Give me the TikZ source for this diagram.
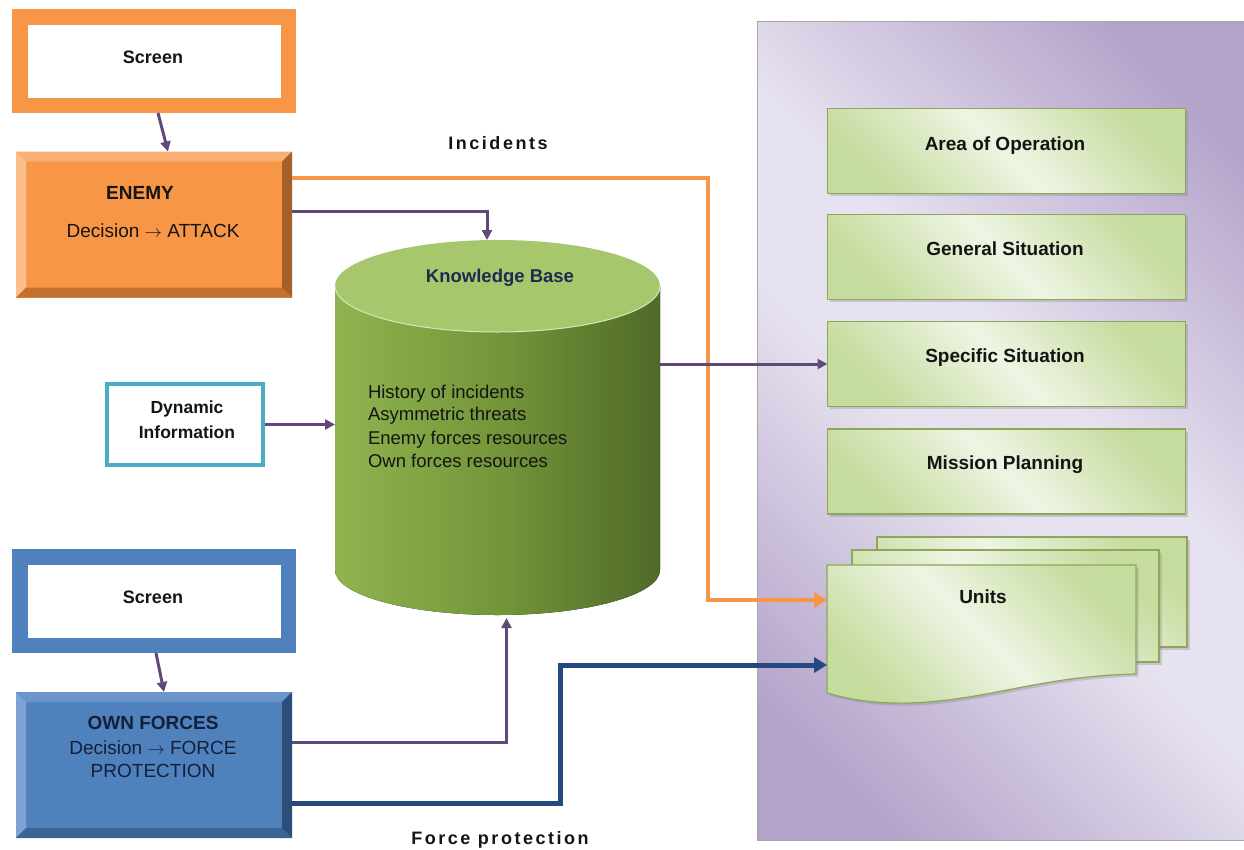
\documentclass[tikz,border=0pt]{standalone}
\usepackage{fontspec}
\setmainfont{Liberation Sans}
\newfontfamily\spacedfont[LetterSpace=14]{Liberation Sans}
\usetikzlibrary{arrows.meta,calc,shadows}
\definecolor{orng}{HTML}{F79646}
\definecolor{orngT}{HTML}{F9AE72}
\definecolor{orngL}{HTML}{FBBF8C}
\definecolor{orngR}{HTML}{A55F28}
\definecolor{orngB}{HTML}{C4712F}
\definecolor{blu}{HTML}{4F81BD}
\definecolor{bluT}{HTML}{6B95CB}
\definecolor{bluL}{HTML}{7EA3D4}
\definecolor{bluR}{HTML}{2C4D79}
\definecolor{bluB}{HTML}{3A6396}
\definecolor{navy}{HTML}{24497F}
\definecolor{purp}{HTML}{5F497A}
\definecolor{tealc}{HTML}{4BACC6}
\definecolor{kbL}{HTML}{90B44F}
\definecolor{kbM}{HTML}{74963A}
\definecolor{kbR}{HTML}{4F6A27}
\definecolor{kbTop}{HTML}{A7C76C}
\definecolor{pnlD}{HTML}{B3A3CA}
\definecolor{pnlL}{HTML}{E7E2EF}
\definecolor{gD}{HTML}{C6DB9E}
\definecolor{gL}{HTML}{EEF5E4}
\definecolor{gEdge}{HTML}{8CA65A}
\definecolor{txt}{HTML}{141414}
\definecolor{kbTitle}{HTML}{1F2B50}
\definecolor{owntxt}{HTML}{14203A}
\pgfdeclareverticalshading{pnlshade}{100bp}{color(0bp)=(pnlD); color(22bp)=(pnlD); color(45bp)=(pnlL); color(55bp)=(pnlL); color(78bp)=(pnlD); color(100bp)=(pnlD)}
\newcommand{\bevelbox}[6]{%
  \fill[#2] (#1.north west) -- (#1.north east) -- ($(#1.north east)+(-#6,-#6)$) -- ($(#1.north west)+(#6,-#6)$) -- cycle;
  \fill[#3] (#1.north west) -- ($(#1.north west)+(#6,-#6)$) -- ($(#1.south west)+(#6,#6)$) -- (#1.south west) -- cycle;
  \fill[#4] (#1.north east) -- ($(#1.north east)+(-#6,-#6)$) -- ($(#1.south east)+(-#6,#6)$) -- (#1.south east) -- cycle;
  \fill[#5] (#1.south west) -- ($(#1.south west)+(#6,#6)$) -- ($(#1.south east)+(-#6,#6)$) -- (#1.south east) -- cycle;
}
\newcommand{\rarr}{\(\rightarrow\)}
\begin{document}
\begin{tikzpicture}[x=1pt,y=1pt,
  every node/.style={inner sep=0pt, outer sep=0pt, text=txt},
  scrframe/.style={draw=#1, line width=15.5pt, fill=white, minimum width=268.5pt, minimum height=88.5pt, outer sep=7.75pt},
  face/.style={fill=#1, minimum width=276pt, minimum height=146pt},
  gbox/.style={draw=gEdge, line width=1.2pt, top color=gD, bottom color=gD, middle color=gL, shading angle=-45, minimum width=358pt, minimum height=85pt, drop shadow={shadow xshift=2.5pt, shadow yshift=-2.5pt, opacity=.3}},
  udoc/.style={draw=gEdge, line width=1.2pt, top color=gD, bottom color=gD, middle color=gL, shading angle=-45, drop shadow={shadow xshift=2.5pt, shadow yshift=-2.5pt, opacity=.3}},
  blbl/.style={font=\fontsize{19}{23}\selectfont\bfseries, anchor=base},
  rlbl/.style={font=\fontsize{19}{23}\selectfont, anchor=base},
  kbtxt/.style={font=\fontsize{18.5}{23}\selectfont, anchor=base west},
  conP/.style={draw=purp, line width=3pt, -{Triangle[length=10pt,width=10pt]}},
  conO/.style={draw=orng, line width=4.7pt, -{Triangle[length=13pt,width=15pt]}},
  conB/.style={draw=navy, line width=5pt, -{Triangle[length=13pt,width=15pt]}},
]
\useasboundingbox (0,0) rectangle (1244,-849);

% right panel
\node[draw=gray!70, line width=.8pt, shading=pnlshade, shading angle=-45, minimum width=493pt, minimum height=819pt] (pnl) at (1003.5,-430.5) {};

% green boxes
\node[gbox] (ao) at (1006.5,-151) {};
\node[gbox] (gs) at (1006.5,-257) {};
\node[gbox] (ss) at (1006.5,-364) {};
\node[gbox] (mp) at (1006.5,-471.5) {};
\node[blbl] (aoT) at (1005,-150) {Area of Operation};
\node[blbl] (gsT) at (1005,-255) {General Situation};
\node[blbl] (ssT) at (1005,-362) {Specific Situation};
\node[blbl] (mpT) at (1005,-469) {Mission Planning};

% units stack
\path[udoc] (877,-537) rectangle (1187,-647);
\path[udoc] (852,-550) rectangle (1159,-662);
\path[udoc] (827,-565) -- (1136,-565) -- (1136,-674) .. controls (1040,-676) and (990,-700) .. (910,-703) .. controls (870,-704) and (845,-698) .. (827,-693) -- cycle;
\node[minimum width=309pt, minimum height=128pt] (units) at (981.5,-629) {};
\node[blbl] (unitsT) at (983,-603) {Units};

% top screen and enemy
\node[scrframe=orng] (scrA) at (154,-61) {};
\node[font=\fontsize{18}{22}\selectfont\bfseries, anchor=base] (scrAT) at (153,-63.5) {Screen};
\node[face=orng] (enemy) at (154,-224.5) {};
\bevelbox{enemy}{orngT}{orngL}{orngR}{orngB}{10}
\node[blbl] (enT1) at (140,-199) {ENEMY};
\node[rlbl] (enT2) at (153,-237) {Decision \rarr{} ATTACK};

% dynamic information
\node[draw=tealc, line width=4pt, fill=white, minimum width=156pt, minimum height=81pt, outer sep=2pt] (dyn) at (185,-424.5) {};
\node[font=\fontsize{17.5}{21}\selectfont\bfseries, anchor=base] (dynT1) at (187,-413.5) {Dynamic};
\node[font=\fontsize{17.5}{21}\selectfont\bfseries, anchor=base] (dynT2) at (187,-438.5) {Information};

% bottom screen and own forces
\node[scrframe=blu] (scrB) at (154,-601) {};
\node[font=\fontsize{18}{22}\selectfont\bfseries, anchor=base] (scrBT) at (153,-603.5) {Screen};
\node[face=blu] (own) at (154,-765) {};
\bevelbox{own}{bluT}{bluL}{bluR}{bluB}{10}
\node[blbl, text=owntxt] (owT1) at (153,-729) {OWN FORCES};
\node[rlbl, text=owntxt] (owT2) at (153,-754) {Decision \rarr{} FORCE};
\node[rlbl, text=owntxt] (owT3) at (153,-777) {PROTECTION};

% knowledge base cylinder
\node[minimum width=325pt, minimum height=375pt] (kb) at (497.5,-427.5) {};
\fill[left color=kbL, right color=kbR, middle color=kbM] (335,-286) -- (335,-570) arc[start angle=180, end angle=360, x radius=162.5, y radius=45] -- (660,-286) -- cycle;
\fill[kbTop] (497.5,-286) ellipse[x radius=162.5, y radius=46];
\draw[white!55!kbTop, line width=1pt] (335,-286) arc[start angle=180, end angle=360, x radius=162.5, y radius=46];
\node[font=\fontsize{18.5}{22}\selectfont\bfseries, text=kbTitle, anchor=base] (kbT) at (500,-282) {Knowledge Base};
\node[kbtxt] (kb1) at (368,-398) {History of incidents};
\node[kbtxt] (kb2) at (368,-420.5) {Asymmetric threats};
\node[kbtxt] (kb3) at (368,-444) {Enemy forces resources};
\node[kbtxt] (kb4) at (368,-467.5) {Own forces resources};

% labels
\node[font=\fontsize{18}{22}\selectfont\bfseries\spacedfont, anchor=base] (incT) at (498,-149.5) {Incidents};
\node[font=\fontsize{18}{22}\selectfont\bfseries\spacedfont, anchor=base] (fpT) at (500,-844.5) {Force protection};

% connectors
\coordinate (incBend) at (708,-178);
\coordinate (fpBend) at (560,-803);
\draw[conO] (enemy.east |- incBend) -- (incBend) |- (units.west |- 0,-600);
\draw[conP] ($(enemy.north east)+(0,-60)$) -| ($(kb.north)+(-10.5,0)$);
\draw[conP] (kb.east |- ss.west) -- (ss.west);
\draw[conP] (dyn.east) -- (dyn.east -| kb.west);
\draw[conP] ($(own.north east)+(0,-50)$) -| ($(kb.south)+(9,-3)$);
\draw[conB] (own.east |- fpBend) -- (fpBend) |- (units.west |- 0,-665);
\draw[conP] ($(scrA.south)+(4,0)$) -- ($(enemy.north)+(14,0)$);
\draw[conP] ($(scrB.south)+(2,0)$) -- ($(own.north)+(10,0)$);
\end{tikzpicture}
\end{document}
